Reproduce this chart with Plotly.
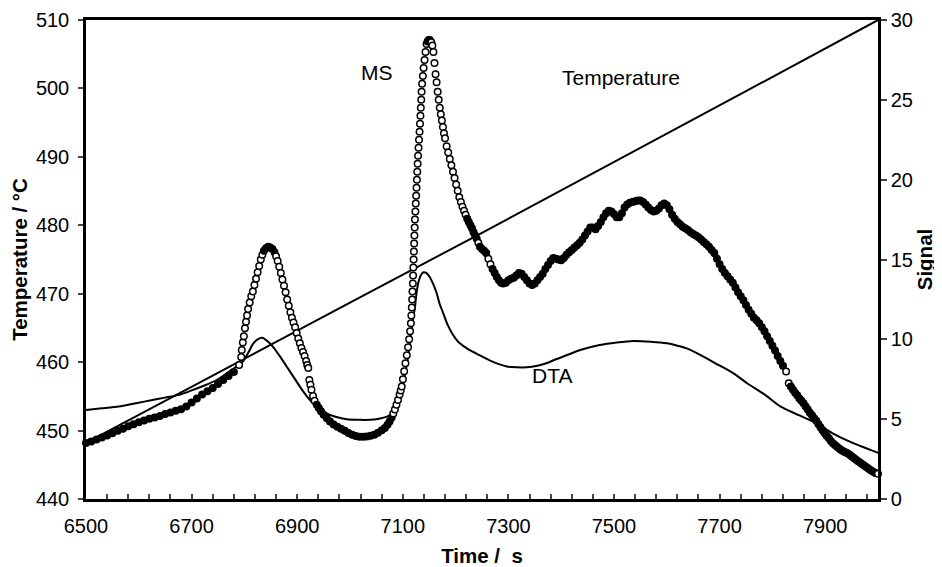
import numpy as np
import plotly.graph_objects as go


# temperature ramp (left axis)
temp_time = [6500, 6750, 7000, 7250, 7500, 7750, 8000]
temp_value = [448.2, 458.5, 468.7, 478.9, 489.2, 499.6, 510.0]

# DTA trace (right axis)
dta_time = [
    6500, 6530, 6562, 6595, 6626, 6650, 6676, 6700, 6727, 6750,
    6771, 6785, 6797, 6808, 6816, 6825, 6834, 6845, 6855, 6868,
    6880, 6893, 6905, 6918, 6930, 6946, 6962, 6978, 6994, 7016,
    7038, 7055, 7070, 7080, 7088, 7096, 7104, 7110, 7114, 7119,
    7123, 7126, 7129, 7134, 7139, 7145, 7151, 7157, 7164, 7170,
    7177, 7185, 7193, 7200, 7208, 7225, 7246, 7270, 7297, 7315,
    7335, 7355, 7372, 7390, 7410, 7436, 7473, 7505, 7537, 7570,
    7600, 7620, 7638, 7665, 7692, 7725, 7752, 7785, 7815, 7850,
    7880, 7915, 7953, 8000,
]
dta_signal = [
    5.58, 5.68, 5.79, 6.0, 6.2, 6.35, 6.52, 6.8, 7.14, 7.5,
    7.98, 8.3, 8.6, 9.2, 9.7, 10.0, 10.1, 9.85, 9.5, 8.9,
    8.3, 7.65, 7.04, 6.45, 6.0, 5.55, 5.27, 5.1, 5.0, 4.96,
    4.96, 5.03, 5.16, 5.35, 5.8, 6.6, 7.8, 8.9, 9.96, 11.2,
    12.0, 12.9, 13.5, 14.0, 14.2, 14.15, 13.9, 13.5, 12.9, 12.2,
    11.6, 10.9, 10.4, 10.05, 9.75, 9.35, 9.0, 8.6, 8.3, 8.25,
    8.25, 8.35, 8.5, 8.75, 9.0, 9.33, 9.64, 9.8, 9.9, 9.85,
    9.75, 9.6, 9.43, 9.0, 8.5, 7.9, 7.25, 6.55, 5.8, 5.25,
    4.8, 4.1, 3.5, 2.9,
]

# MS signal (right axis, open circles)
ms_time = [
    6500, 6510, 6520, 6530, 6540, 6550, 6560, 6570, 6580, 6590,
    6600, 6610, 6620, 6630, 6640, 6650, 6660, 6670, 6680, 6690,
    6700, 6710, 6720, 6730, 6740, 6750, 6760, 6770, 6780, 6790,
    6794, 6795, 6797, 6799, 6801, 6803, 6805, 6807, 6810, 6813,
    6816, 6819, 6822, 6825, 6828, 6831, 6834, 6837, 6841, 6845,
    6849, 6853, 6857, 6860, 6863, 6866, 6869, 6872, 6875, 6878,
    6881, 6884, 6887, 6890, 6893, 6896, 6899, 6902, 6905, 6908,
    6911, 6914, 6917, 6919, 6921, 6923, 6925, 6927, 6930, 6933,
    6937, 6941, 6945, 6950, 6956, 6962, 6969, 6976, 6983, 6990,
    6997, 7004, 7011, 7018, 7025, 7032, 7039, 7046, 7053, 7060,
    7066, 7071, 7075, 7079, 7082, 7085, 7088, 7091, 7094, 7096,
    7098, 7100.2, 7102.6, 7105, 7107.5, 7110, 7112, 7113.8, 7115.3, 7116.2,
    7117, 7117.7, 7118.3, 7119, 7119.5, 7120, 7120.5, 7121, 7121.5, 7122,
    7122.5, 7123, 7123.8, 7124.5, 7125.3, 7126, 7126.7, 7127.4, 7128.1, 7128.9,
    7129.8, 7130.7, 7131.7, 7132.6, 7133.4, 7134.1, 7134.9, 7135.6, 7136.6, 7138,
    7139.4, 7141.2, 7143, 7145, 7147, 7149, 7151, 7154, 7156, 7158,
    7160, 7162, 7164, 7166, 7168, 7170, 7172, 7174, 7176, 7178,
    7180, 7183, 7186, 7189, 7192, 7195, 7198, 7201, 7204, 7207,
    7210, 7213, 7216, 7219, 7222, 7225, 7228, 7231, 7234, 7237,
    7240, 7243, 7246, 7250, 7254, 7258, 7262, 7266, 7270, 7274,
    7278, 7282, 7286, 7290, 7295, 7300, 7305, 7310, 7315, 7320,
    7325, 7330, 7335, 7340, 7345, 7350, 7355, 7360, 7365, 7370,
    7375, 7380, 7385, 7390, 7395, 7400, 7405, 7410, 7415, 7420,
    7425, 7430, 7435, 7440, 7445, 7450, 7455, 7460, 7465, 7470,
    7475, 7480, 7485, 7490, 7495, 7500, 7505, 7510, 7515, 7520,
    7525, 7530, 7535, 7540, 7545, 7550, 7555, 7560, 7565, 7570,
    7575, 7580, 7585, 7590, 7595, 7600, 7605, 7610, 7615, 7620,
    7625, 7630, 7635, 7640, 7645, 7650, 7655, 7660, 7665, 7670,
    7675, 7680, 7685, 7690, 7695, 7700, 7705, 7710, 7715, 7720,
    7725, 7730, 7735, 7740, 7745, 7750, 7755, 7760, 7765, 7770,
    7775, 7780, 7785, 7790, 7795, 7800, 7805, 7810, 7815, 7820,
    7826, 7831, 7835, 7839, 7843, 7847, 7851, 7855, 7859, 7863,
    7867, 7871, 7875, 7879, 7883, 7887, 7891, 7895, 7899, 7903,
    7907, 7911, 7915, 7919, 7923, 7927, 7931, 7935, 7939, 7943,
    7947, 7951, 7955, 7959, 7963, 7967, 7971, 7975, 7979, 7983,
    7987, 7991, 7995, 8000,
]
ms_signal = [
    3.50, 3.60, 3.72, 3.85, 3.98, 4.12, 4.28, 4.40, 4.55, 4.68,
    4.80, 4.92, 5.02, 5.10, 5.20, 5.32, 5.42, 5.52, 5.62, 5.80,
    6.05, 6.30, 6.55, 6.75, 6.95, 7.20, 7.45, 7.70, 7.95, 8.40,
    8.90, 9.33, 9.80, 10.2, 10.7, 11.1, 11.5, 11.9, 12.3, 12.7,
    13.0, 13.4, 13.8, 14.2, 14.6, 15.0, 15.3, 15.55, 15.7, 15.8,
    15.75, 15.65, 15.45, 15.2, 14.9, 14.55, 14.15, 13.75, 13.35, 12.95,
    12.5, 12.1, 11.7, 11.35, 11.05, 10.75, 10.4, 10.05, 9.75, 9.45,
    9.2, 8.95, 8.65, 8.4, 8.2, 7.45, 7.15, 6.85, 6.45, 6.15,
    5.9, 5.7, 5.5, 5.28, 5.05, 4.85, 4.67, 4.52, 4.4, 4.27,
    4.13, 4.02, 3.95, 3.9, 3.9, 3.92, 3.96, 4.03, 4.15, 4.3,
    4.45, 4.65, 4.85, 5.1, 5.35, 5.6, 5.9, 6.2, 6.55, 6.8,
    7.05, 7.5, 8.0, 8.5, 9.0, 9.5, 10.0, 10.5, 11.0, 11.5,
    12.0, 12.5, 13.0, 13.5, 14.0, 14.5, 15.0, 15.5, 16.0, 16.5,
    17.0, 17.5, 18.0, 18.5, 19.0, 19.5, 20.0, 20.5, 21.0, 21.5,
    22.0, 22.5, 23.0, 23.5, 24.0, 24.5, 25.0, 25.5, 26.0, 26.5,
    27.0, 27.5, 28.0, 28.5, 28.65, 28.75, 28.75, 28.6, 28.4, 28.0,
    27.3, 26.6, 26.1, 25.5, 25.0, 24.5, 24.1, 23.7, 23.3, 22.9,
    22.6, 22.1, 21.7, 21.3, 20.9, 20.5, 20.1, 19.7, 19.3, 18.9,
    18.6, 18.3, 18.05, 17.8, 17.55, 17.35, 17.15, 16.95, 16.7, 16.5,
    16.3, 16.05, 15.8, 15.65, 15.55, 15.4, 15.05, 14.7, 14.4, 14.15,
    13.9, 13.7, 13.55, 13.5, 13.55, 13.7, 13.8, 13.85, 14.0, 14.15,
    14.1, 13.9, 13.7, 13.5, 13.4, 13.5, 13.7, 13.9, 14.1, 14.4,
    14.65, 14.9, 15.1, 15.05, 15.0, 14.95, 15.1, 15.3, 15.45, 15.6,
    15.75, 15.9, 16.05, 16.25, 16.5, 16.75, 17.0, 17.0, 16.9, 17.1,
    17.35, 17.65, 17.9, 18.05, 18.0, 17.85, 17.65, 17.65, 17.9, 18.25,
    18.45, 18.55, 18.6, 18.65, 18.7, 18.7, 18.6, 18.45, 18.25, 18.1,
    18.0, 18.05, 18.2, 18.4, 18.5, 18.4, 18.15, 17.8, 17.55, 17.35,
    17.2, 17.05, 16.95, 16.85, 16.7, 16.6, 16.5, 16.4, 16.25, 16.1,
    15.95, 15.8, 15.6, 15.4, 15.05, 14.7, 14.4, 14.15, 13.95, 13.75,
    13.55, 13.25, 12.95, 12.7, 12.45, 12.15, 11.85, 11.6, 11.35, 11.2,
    11.0, 10.75, 10.5, 10.2, 9.9, 9.6, 9.3, 8.95, 8.65, 8.35,
    7.98, 7.25, 7.05, 6.85, 6.65, 6.5, 6.3, 6.15, 6.0, 5.8,
    5.6, 5.4, 5.25, 5.05, 4.9, 4.7, 4.5, 4.3, 4.12, 3.95,
    3.8, 3.62, 3.48, 3.36, 3.25, 3.15, 3.05, 2.98, 2.92, 2.85,
    2.75, 2.65, 2.55, 2.45, 2.35, 2.25, 2.16, 2.07, 1.98, 1.88,
    1.78, 1.7, 1.63, 1.58,
]
assert len(ms_time) == len(ms_signal)
assert len(dta_time) == len(dta_signal)

FONT = "Liberation Sans, Arial, sans-serif"

# where the MS signal changes slowly the real (much denser) circles merge into a solid band
ms_slope = np.abs(np.gradient(np.array(ms_signal), np.array(ms_time, dtype=float)))
ms_fill = np.where(ms_slope < 0.08, 'black', 'white')
ms_fill[-1] = 'white'

fig = go.Figure()

# temperature line
fig.add_trace(go.Scatter(x=temp_time, y=temp_value, mode='lines', yaxis='y',
                         line=dict(color='black', width=2)))

# DTA line
fig.add_trace(go.Scatter(x=dta_time, y=dta_signal, mode='lines', yaxis='y2',
                         line=dict(color='black', width=2, shape='spline', smoothing=0.6)))

# MS open circles
fig.add_trace(go.Scatter(x=ms_time, y=ms_signal, mode='markers', yaxis='y2', cliponaxis=False,
                         marker=dict(symbol='circle', size=6.5, color=list(ms_fill),
                                     line=dict(color='black', width=1.5))))

# labels next to the curves
fig.add_annotation(x=7051, y=502.3, text='MS', showarrow=False, font=dict(size=21))
fig.add_annotation(x=7514, y=501.6, text='Temperature', showarrow=False, font=dict(size=21))
fig.add_annotation(x=7383, y=458.0, text='DTA', showarrow=False, font=dict(size=21))

# axes
fig.update_xaxes(range=[6500, 8000], tick0=6500, dtick=200, ticks='inside', ticklen=5, tickwidth=1.5,
                 minor=dict(tick0=6500, dtick=40, ticks='inside', ticklen=5, tickwidth=1.5),
                 showline=True, linewidth=2.5, linecolor='black', mirror=True, automargin=False,
                 showgrid=False, zeroline=False, ticklabelstandoff=7,
                 title=dict(text='<b>Time / \u00a0s</b>', font=dict(size=20.5), standoff=29))
fig.update_layout(
    yaxis=dict(range=[440, 510], dtick=10, ticks='outside', ticklen=5, tickwidth=1.5,
               showline=True, linewidth=2.5, linecolor='black', showgrid=False, zeroline=False,
               ticklabelstandoff=5, automargin=False,
               title=dict(text='<b>Temperature / °C</b>', font=dict(size=20.5), standoff=11)),
    yaxis2=dict(range=[0, 30], dtick=5, ticks='outside', ticklen=6, tickwidth=1.5,
                overlaying='y', side='right', automargin=False,
                showline=True, linewidth=2.5, linecolor='black', showgrid=False, zeroline=False,
                title=dict(text='<b>Signal</b>', font=dict(size=20.5), standoff=6)),
    # page body adds 8 px around the plot div
    width=934, height=559, margin=dict(l=78, r=64, t=12, b=68, autoexpand=False),
    plot_bgcolor='white', paper_bgcolor='white', showlegend=False,
    font=dict(family=FONT, size=20, color='black'),
)

fig.write_html("out.html")
